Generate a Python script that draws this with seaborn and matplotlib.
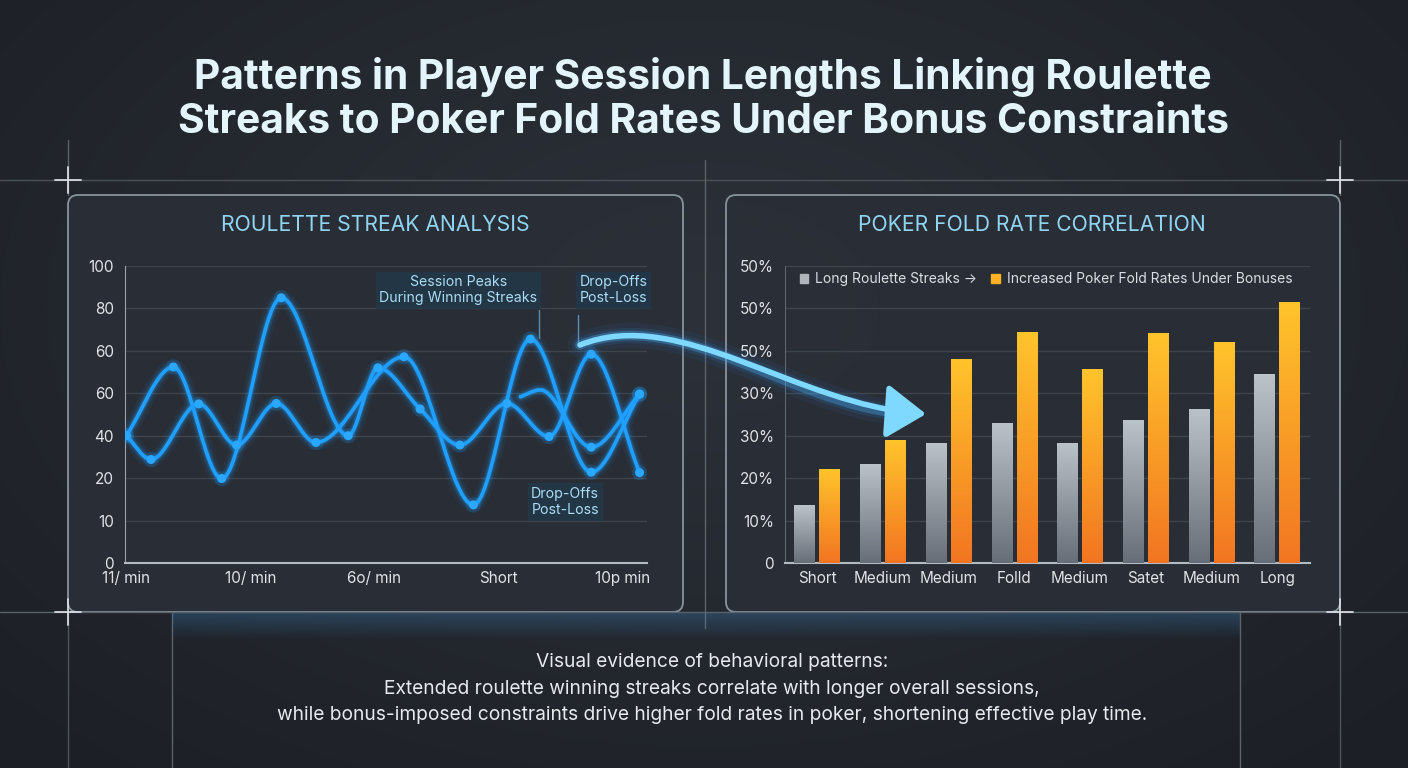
import numpy as np
import pandas as pd
import matplotlib
matplotlib.use("Agg")
import matplotlib.pyplot as plt
import seaborn as sns
from matplotlib.colors import LinearSegmentedColormap
from matplotlib.patches import FancyBboxPatch, Patch, FancyArrowPatch, ArrowStyle
from matplotlib.path import Path

# ---- data ----
title_lines = ["Patterns in Player Session Lengths Linking Roulette",
               "Streaks to Poker Fold Rates Under Bonus Constraints"]
footer_lines = ["Visual evidence of behavioral patterns:",
                "Extended roulette winning streaks correlate with longer overall sessions,",
                "while bonus-imposed constraints drive higher fold rates in poker, shortening effective play time."]

# left panel (grid units 0..70, one grid step = 10)
left_yticklabels = ["0", "10", "20", "40", "60", "60", "80", "100"]
left_xticklabels = ["11/ min", "10/ min", "6o/ min", "Short", "10p min"]
series_a_x = [0, 0.38, 0.77, 1.25, 1.79, 2.03, 2.37, 2.69, 3.07, 3.41, 3.75, 4.14]
series_a_y = [30, 46.2, 19.9, 62.5, 30, 46, 36.3, 27.8, 37.6, 29.8, 49.2, 21.3]
series_b_x = [0, 0.2, 0.585, 0.89, 1.21, 1.53, 2.24, 2.80, 3.26, 3.75, 4.14]
series_b_y = [30, 24.4, 37.5, 27.8, 37.6, 28.4, 48.6, 13.7, 52.8, 21.4, 39.8]
series_c_x = [3.18, 3.34, 3.75, 4.14]
series_c_y = [39.2, 40.8, 27.3, 39.8]

# right panel
right_yticklabels = ["0", "10%", "20%", "30%", "30%", "50%", "50%", "50%"]
categories = ["Short", "Medium", "Medium", "Folld", "Medium", "Satet", "Medium", "Long"]
roulette_streaks = [13.6, 23.4, 28.4, 33.0, 28.3, 33.6, 36.4, 44.5]
poker_fold = [22.2, 29.0, 48.1, 54.4, 45.7, 54.2, 52.2, 61.4]
hue_names = ["Long Roulette Streaks \u2192", "Increased Poker Fold Rates Under Bonuses"]

# ---- style ----
sns.set_style("dark", {"axes.facecolor": "none", "figure.facecolor": "#24282f"})
plt.rcParams["font.family"] = ["Inter", "DejaVu Sans"]

W, H = 1408, 768
fig = plt.figure(figsize=(W / 100, H / 100), dpi=100)

# background in pixel coordinates
bg = fig.add_axes([0, 0, 1, 1], zorder=-10)
bg.set_xlim(0, W)
bg.set_ylim(H, 0)
bg.axis("off")
yy, xx = np.mgrid[0:H, 0:W]
r = np.sqrt(((xx - W / 2) / (W * 0.7)) ** 2 + ((yy - H * 0.4) / (H * 0.8)) ** 2)
base = np.array([0x2d, 0x32, 0x3a]) / 255
edge = np.array([0x1c, 0x1f, 0x25]) / 255
t = np.clip(r, 0, 1)[..., None]
bg.imshow(base * (1 - t) + edge * t, extent=[0, W, H, 0], aspect="auto", zorder=0)

# panels
for x0, x1 in [(68, 683), (726, 1340)]:
    bg.add_patch(FancyBboxPatch((x0, 195), x1 - x0, 417,
                                boxstyle="round,pad=0,rounding_size=10",
                                fc="#2a2f37", ec="#8f98a1", lw=1.3, alpha=0.95, zorder=2))

# decorative guide lines and crosses
line_c = "#4a5058"
bg.plot([0, W], [180, 180], color=line_c, lw=1, zorder=1)
bg.plot([0, W], [612, 612], color="#5b626a", lw=1, zorder=3)
for x in [68, 1340]:
    bg.plot([x, x], [140, 195], color="#5b626a", lw=1, zorder=1)
    bg.plot([x, x], [612, H], color="#4d545c", lw=1, zorder=1)
    for y in [180, 612]:
        bg.plot([x - 13, x + 13], [y, y], color="#d8dde2", lw=1.3, zorder=4)
        bg.plot([x, x], [y - 13, y + 13], color="#d8dde2", lw=1.3, zorder=4)
for x in [172, 1240]:
    bg.plot([x, x], [612, H], color="#5b626a", lw=1, zorder=1)
bg.plot([705, 705], [160, 628], color="#5b626a", lw=1, zorder=1)

# faint blue glow under the panels
glow = np.zeros((40, 1, 4))
glow[..., 0], glow[..., 1], glow[..., 2] = 0.25, 0.55, 0.8
glow[:, 0, 3] = np.linspace(0.3, 0, 40)
bg.imshow(glow, extent=[172, 1240, 640, 612], aspect="auto", zorder=1)

# titles and footer
for txt, y in zip(title_lines, [77, 122]):
    bg.text(703, y, txt, ha="center", va="center", fontsize=29.3, fontweight="bold",
            color="#e3f4fb", zorder=5)
bg.text(375, 225, "ROULETTE STREAK ANALYSIS", ha="center", va="center",
        fontsize=15.2, color="#8fd4f1", zorder=5)
bg.text(1032, 225, "POKER FOLD RATE CORRELATION", ha="center", va="center",
        fontsize=15.2, color="#8fd4f1", zorder=5)
for txt, y in zip(footer_lines, [662, 689, 715]):
    bg.text(712, y, txt, ha="center", va="center", fontsize=13.8, color="#e6eaee", zorder=5)

# ---- left chart ----
axL = fig.add_axes([125 / W, 1 - 563 / H, 522 / W, 297 / H], zorder=5)


def pchip(x, y, n=30):
    x = np.asarray(x, float)
    y = np.asarray(y, float)
    h = np.diff(x)
    d = np.diff(y) / h
    m = np.zeros_like(y)
    m[0], m[-1] = d[0], d[-1]
    for k in range(1, len(x) - 1):
        if d[k - 1] * d[k] > 0:
            w1, w2 = 2 * h[k] + h[k - 1], h[k] + 2 * h[k - 1]
            m[k] = (w1 + w2) / (w1 / d[k - 1] + w2 / d[k])
    xs, ys = [], []
    for k in range(len(x) - 1):
        s = np.linspace(0, 1, n, endpoint=False)
        h00 = 2 * s**3 - 3 * s**2 + 1
        h10 = s**3 - 2 * s**2 + s
        h01 = -2 * s**3 + 3 * s**2
        h11 = s**3 - s**2
        xs.append(x[k] + s * h[k])
        ys.append(h00 * y[k] + h10 * h[k] * m[k] + h01 * y[k + 1] + h11 * h[k] * m[k + 1])
    xs.append([x[-1]])
    ys.append([y[-1]])
    return np.concatenate(xs), np.concatenate(ys)


blue = "#1f9fff"
for sx, sy, mark_from in [(series_a_x, series_a_y, 0), (series_b_x, series_b_y, 0),
                          (series_c_x, series_c_y, 2)]:
    cx, cy = pchip(sx, sy)
    curve = pd.DataFrame({"x": cx, "y": cy})
    for lw, al in [(11, 0.06), (7, 0.12), (4.5, 0.25)]:
        sns.lineplot(data=curve, x="x", y="y", ax=axL, color=blue, lw=lw, alpha=al,
                     sort=False, estimator=None)
    sns.lineplot(data=curve, x="x", y="y", ax=axL, color=blue, lw=2.6, sort=False,
                 estimator=None)
    pts = pd.DataFrame({"x": sx[mark_from:], "y": sy[mark_from:]})
    sns.scatterplot(data=pts, x="x", y="y", ax=axL, color=blue, s=120, alpha=0.18,
                    edgecolor="none", zorder=4)
    sns.scatterplot(data=pts, x="x", y="y", ax=axL, color="#2aa8ff", s=42,
                    edgecolor="none", zorder=5)

axL.set_xlim(-0.01, 4.2)
axL.set_ylim(0, 70)
axL.set_yticks(np.arange(0, 71, 10))
axL.set_yticklabels(left_yticklabels)
axL.set_xticks(range(len(left_xticklabels)))
axL.set_xticklabels(left_xticklabels)
axL.set_xlabel("")
axL.set_ylabel("")
axL.grid(axis="y", color="#3e444c", lw=1)
axL.grid(axis="x", visible=False)
axL.tick_params(colors="#dfe3e7", labelsize=11, length=0)
axL.tick_params(axis="y", pad=8)
axL.tick_params(axis="x", pad=6)
for side in ["top", "right"]:
    axL.spines[side].set_visible(False)
axL.spines["left"].set_color("#9aa3ab")
axL.spines["bottom"].set_color("#b3bac1")
axL.spines["bottom"].set_linewidth(1.5)

box = dict(boxstyle="square,pad=0.25", fc="#22384a", ec="none", alpha=0.85)
axL.text(2.68, 64.3, "Session Peaks\nDuring Winning Streaks", ha="center", va="center",
         fontsize=10.2, color="#a9dcf2", bbox=box, linespacing=1.2)
axL.text(3.93, 64.3, "Drop-Offs\nPost-Loss", ha="center", va="center",
         fontsize=10.2, color="#a9dcf2", bbox=box, linespacing=1.2)
axL.text(3.54, 14.4, "Drop-Offs\nPost-Loss", ha="center", va="center",
         fontsize=10.2, color="#a9dcf2", bbox=box, linespacing=1.2)
axL.plot([3.33, 3.33], [59.6, 53], color="#5d8fb0", lw=1)
axL.plot([3.645, 3.645], [58.5, 51.9], color="#5d8fb0", lw=1)

# ---- right chart ----
axR = fig.add_axes([785 / W, 1 - 563 / H, 525 / W, 297 / H], zorder=5)
bars = pd.DataFrame({
    "category": list(range(len(categories))) * 2,
    "value": roulette_streaks + poker_fold,
    "series": [hue_names[0]] * len(categories) + [hue_names[1]] * len(categories),
})
sns.barplot(data=bars, x="category", y="value", hue="series", ax=axR, width=0.76, gap=0.18,
            palette=["#a9afb6", "#fbaa26"], legend=False, zorder=3, linewidth=0,
            edgecolor="none")

cmaps = [LinearSegmentedColormap.from_list("g", ["#686e77", "#bcc2c9"]),
         LinearSegmentedColormap.from_list("o", ["#f27521", "#ffc42c"])]
grad = np.linspace(0, 1, 256).reshape(-1, 1)
for cont, cm in zip(axR.containers, cmaps):
    for b in cont:
        x0, y0, w, h = b.get_x(), b.get_y(), b.get_width(), b.get_height()
        im = axR.imshow(grad, extent=[x0, x0 + w, y0, y0 + h], origin="lower", cmap=cm,
                        aspect="auto", zorder=3.5)
        im.set_clip_path(b)

axR.set_xlim(-0.49, 7.5)
axR.set_ylim(0, 70)
axR.set_yticks(np.arange(0, 71, 10))
axR.set_yticklabels(right_yticklabels)
axR.set_xticks(range(len(categories)))
axR.set_xticklabels(categories)
axR.set_xlabel("")
axR.set_ylabel("")
axR.grid(axis="y", color="#3e444c", lw=1)
axR.grid(axis="x", visible=False)
axR.set_axisbelow(True)
axR.tick_params(colors="#dfe3e7", labelsize=11, length=0)
axR.tick_params(axis="y", pad=8)
axR.tick_params(axis="x", pad=6)
for side in ["top", "right"]:
    axR.spines[side].set_visible(False)
axR.spines["left"].set_color("#5e656d")
axR.spines["bottom"].set_color("#b3bac1")
axR.spines["bottom"].set_linewidth(1.5)

leg = axR.legend(handles=[Patch(color="#b0b5bb"), Patch(color="#ffb224")], labels=hue_names,
                 loc="center left", bbox_to_anchor=(0.005, 0.955), ncol=2, frameon=False,
                 fontsize=10, handlelength=0.6, handleheight=0.6, handletextpad=0.5,
                 columnspacing=1.0, labelcolor="#d9dee3")

# ---- connecting arrow (figure pixel overlay) ----
top = fig.add_axes([0, 0, 1, 1], zorder=20)
top.set_xlim(0, W)
top.set_ylim(H, 0)
top.axis("off")
verts = [(580, 345), (680, 305), (795, 405), (926, 414)]
codes = [Path.MOVETO, Path.CURVE4, Path.CURVE4, Path.CURVE4]
shaft = [(580, 345), (680, 305), (790, 404), (900, 413)]
for lw, al, col in [(18, 0.06, "#2a8cff"), (11, 0.12, "#2f9bff"), (7, 0.3, "#4cb8ff")]:
    top.add_patch(FancyArrowPatch(path=Path(shaft, codes), arrowstyle="-",
                                  color=col, lw=lw, alpha=al, capstyle="round"))
top.add_patch(FancyArrowPatch(path=Path(verts, codes),
                              arrowstyle=ArrowStyle("-|>", head_length=11, head_width=7.5),
                              mutation_scale=2.2, color="#7fd9ff", lw=4))

fig.savefig("out.png", dpi=100, facecolor=fig.get_facecolor())
